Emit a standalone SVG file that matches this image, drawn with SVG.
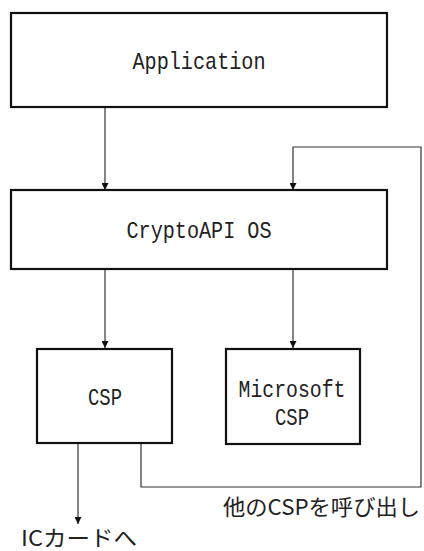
<svg xmlns="http://www.w3.org/2000/svg" width="424" height="551" viewBox="0 0 424 551">
<defs>
<style>
.box{fill:#fff;stroke:#111;stroke-width:2.2}
.lat{font-family:"Liberation Mono","DejaVu Sans Mono",monospace;font-size:24px;fill:#222;text-anchor:middle}
.jp{font-family:"Noto Sans CJK JP",sans-serif;font-size:22px;fill:#222}
.con{fill:none;stroke:#333;stroke-width:1.2}
</style>
<marker id="ah" viewBox="0 0 10 10" refX="10" refY="5" markerWidth="7" markerHeight="7" markerUnits="userSpaceOnUse" orient="auto">
<path d="M0,0 L10,5 L0,10 z" fill="#111"/>
</marker>
</defs>
<rect width="424" height="551" fill="#fff"/>
<g id="connectors">
<line class="con" x1="105" y1="107" x2="105" y2="190" marker-end="url(#ah)"/>
<line class="con" x1="105" y1="269" x2="105" y2="348" marker-end="url(#ah)"/>
<line class="con" x1="293" y1="269" x2="293" y2="348" marker-end="url(#ah)"/>
<polyline class="con" points="141,443 141,487 421,487 421,147 293,147 293,190" marker-end="url(#ah)"/>
<line class="con" x1="78" y1="443" x2="78" y2="524" marker-end="url(#ah)"/>
</g>
<g id="application">
<rect class="box" x="11" y="13" width="376" height="94"/>
<text class="lat" x="199" y="69" textLength="133" lengthAdjust="spacingAndGlyphs">Application</text>
</g>
<g id="cryptoapi">
<rect class="box" x="11" y="190" width="376" height="79"/>
<text class="lat" x="199" y="238" textLength="145" lengthAdjust="spacingAndGlyphs">CryptoAPI OS</text>
</g>
<g id="csp">
<rect class="box" x="37" y="349" width="135" height="94"/>
<text class="lat" x="105" y="405" textLength="34" lengthAdjust="spacingAndGlyphs">CSP</text>
</g>
<g id="mscsp">
<rect class="box" x="226" y="349" width="134" height="95"/>
<text class="lat" x="292" y="397" textLength="107" lengthAdjust="spacingAndGlyphs">Microsoft</text>
<text class="lat" x="292" y="425" textLength="34" lengthAdjust="spacingAndGlyphs">CSP</text>
</g>
<g id="labels">
<text class="jp" x="223" y="515" textLength="197" lengthAdjust="spacingAndGlyphs">他のCSPを呼び出し</text>
<text class="jp" x="21" y="546" textLength="116" lengthAdjust="spacingAndGlyphs">ICカードへ</text>
</g>
</svg>
